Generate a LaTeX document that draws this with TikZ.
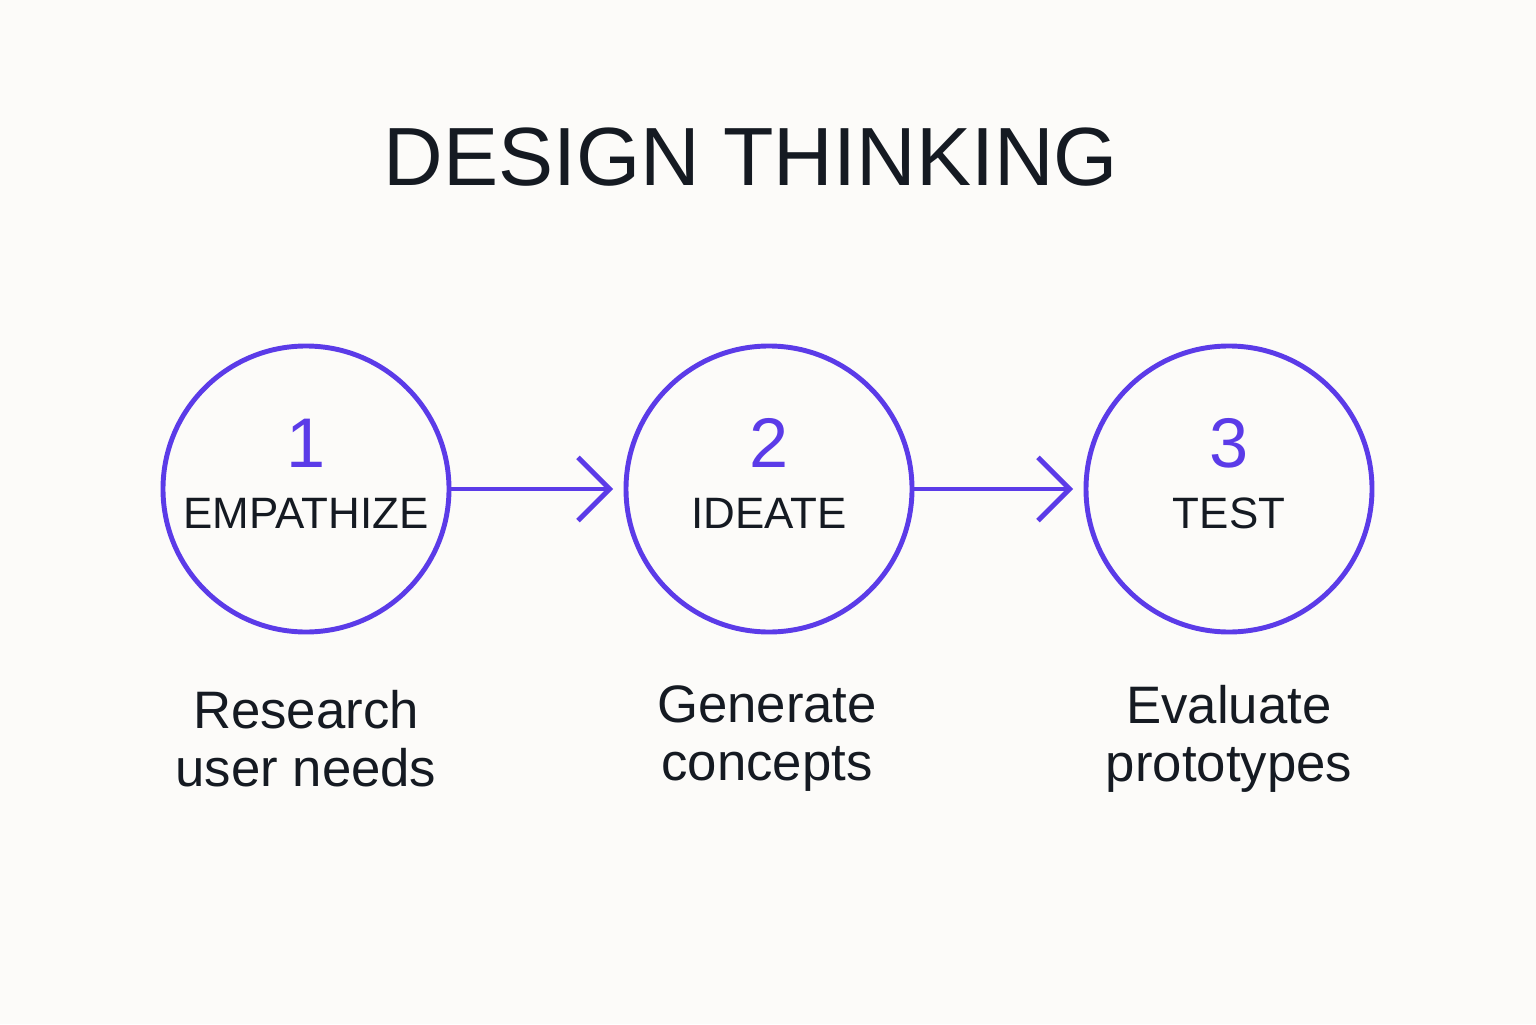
\documentclass[tikz,border=0pt]{standalone}
\usepackage{fontspec}
\setmainfont{Liberation Sans}
\usetikzlibrary{arrows.meta,positioning}
\definecolor{stepviolet}{HTML}{5B3BE8}
\definecolor{inkdark}{HTML}{151A22}
\definecolor{paper}{HTML}{FCFBF9}

\begin{document}
\begin{tikzpicture}[
	phase/.style={shape=circle,draw=stepviolet,line width=1.4pt,minimum size=2.86cm},
	num/.style={text=stepviolet,font=\fontsize{20}{22}\selectfont},
	tag/.style={text=inkdark,font=\fontsize{12.5}{14}\selectfont},
	desc/.style={text=inkdark,align=center,font=\fontsize{15}{16.5}\selectfont},
	flow/.style={draw=stepviolet,line width=1.4pt,-{Straight Barb[length=9pt,width=18pt,line width=1.4pt]},shorten >=3pt}
	]
	
	\fill[paper] (0,0) rectangle (15.36,10.24);
	\useasboundingbox (0,0) rectangle (15.36,10.24);
	
	\node[text=inkdark,font=\fontsize{23.5}{26}\selectfont] (title) at (7.51, 8.67) {DESIGN THINKING};
	
	\node[phase] (empathize) at (3.06, 5.35) {};
	\node[phase] (ideate)    at (7.69, 5.35) {};
	\node[phase] (test)      at (12.29, 5.35) {};
	
	\node[num] (n1) at (3.06, 5.81)  {1};
	\node[num] (n2) at (7.69, 5.81)  {2};
	\node[num] (n3) at (12.29, 5.81) {3};
	
	\node[tag] (t1) at (3.06, 5.11)  {EMPATHIZE};
	\node[tag] (t2) at (7.69, 5.11)  {IDEATE};
	\node[tag] (t3) at (12.29, 5.11) {TEST};
	
	\node[desc] (d1) at (3.06, 2.85)  {Research\\user needs};
	\node[desc] (d2) at (7.67, 2.85)  {Generate\\concepts};
	\node[desc] (d3) at (12.29, 2.85) {Evaluate\\prototypes};
	
	\draw[flow] (empathize) -- (ideate);
	\draw[flow] (ideate) -- (test);
	
\end{tikzpicture}
\end{document}
